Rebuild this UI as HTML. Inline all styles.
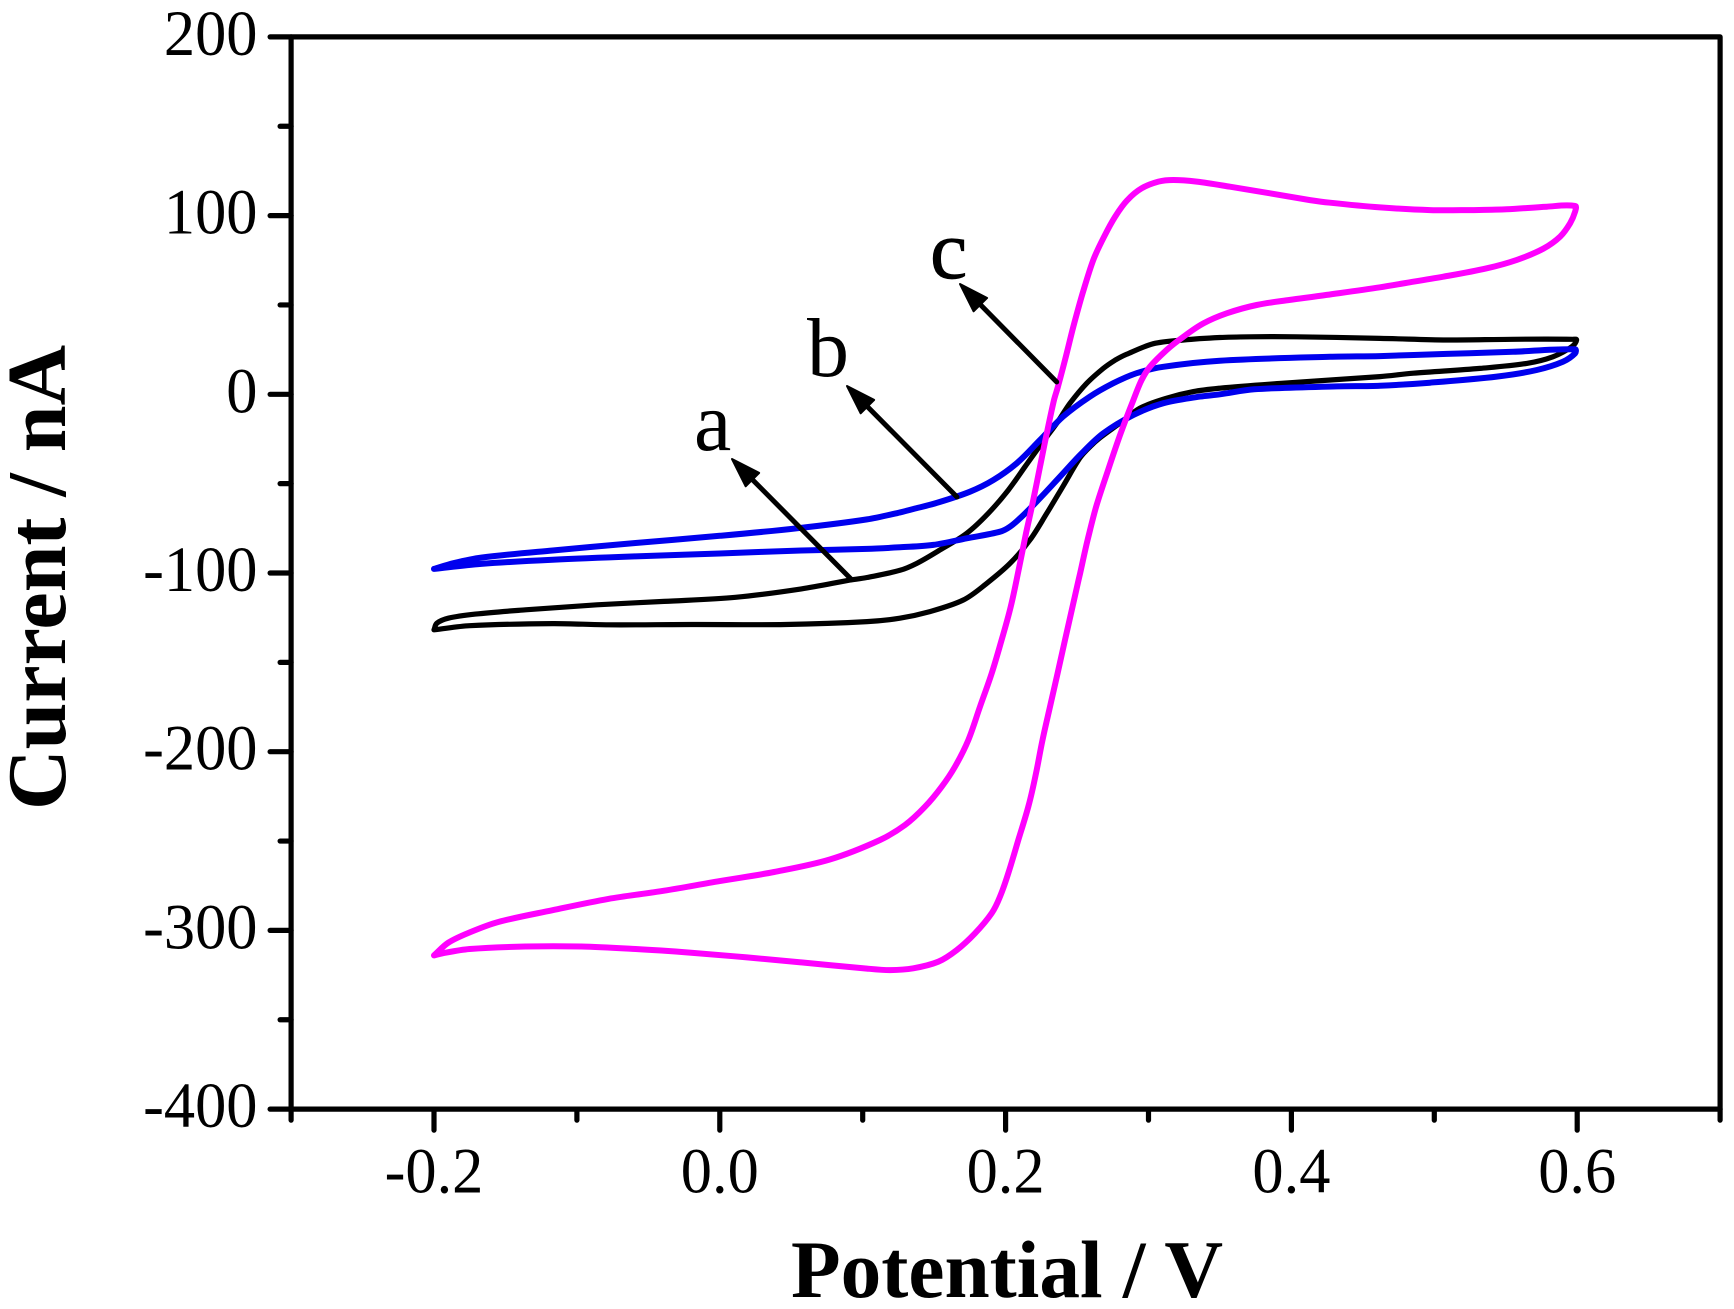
<!DOCTYPE html>
<html>
<head>
<meta charset="utf-8">
<title>Cyclic voltammograms</title>
<style>
html,body{margin:0;padding:0;background:#fff;}
svg{display:block;}
text{font-family:"Liberation Serif",serif;fill:#000;}
</style>
</head>
<body>
<svg id="chart" xmlns="http://www.w3.org/2000/svg" width="1734" height="1309" viewBox="0 0 1734 1309">
<rect x="0" y="0" width="1734" height="1309" fill="#fff"/>
<g id="curves"></g>
<g id="arrows"></g>
<g id="axes"></g>
<text transform="translate(65,810) rotate(-90)" font-size="84" font-weight="bold">Current / nA</text>
<text x="791" y="1297" font-size="81.3" font-weight="bold">Potential / V</text>
<text x="694" y="450" font-size="84">a</text>
<text x="807" y="376" font-size="84">b</text>
<text x="930" y="278" font-size="84" stroke="#000" stroke-width="0.8">c</text>
</svg>
<script>
const xTickValues = [-0.3,-0.2,-0.1,0,0.1,0.2,0.3,0.4,0.5,0.6,0.7];
const xTickLabels = ['', '-0.2', '', '0.0', '', '0.2', '', '0.4', '', '0.6', ''];
const yTickValues = [200,150,100,50,0,-50,-100,-150,-200,-250,-300,-350,-400];
const yTickLabels = ['200','','100','','0','','-100','','-200','','-300','','-400'];

const potentialA = [-0.2,-0.175,-0.117,-0.078,-0.02,0.046,0.103,0.126,0.146,0.1704,0.1868,0.2031,0.2171,0.2288,0.2404,0.2521,0.2591,0.2661,0.28,0.294,0.3127,0.3314,0.35,0.393,0.462,0.4853,0.532,0.5647,0.583,0.5961,0.5996,0.597,0.5551,0.5087,0.462,0.4037,0.371,0.35,0.3244,0.3034,0.2847,0.2765,0.2684,0.2568,0.2451,0.2358,0.2253,0.2136,0.2019,0.1879,0.1728,0.1541,0.1378,0.1261,0.103,0.091,0.057,0.011,-0.039,-0.086,-0.136,-0.171,-0.19,-0.198,-0.2];
const currentA = [-131.8,-129.5,-128.3,-129,-128.8,-128.8,-127.2,-125.3,-121.8,-115.1,-105.8,-94.6,-81.5,-66.6,-51.2,-35.5,-29.3,-24.3,-16.2,-7.8,-2.2,1.5,3.4,6.1,9.9,11.8,14.5,17.3,21,26.6,30.4,30.8,30.8,30.4,31.3,32.2,32.2,31.8,30.4,28.3,22.4,19,14.5,6.2,-5,-16.2,-27.4,-40.5,-53.6,-66.6,-77.8,-87.1,-94.6,-98.5,-102.5,-104,-108.9,-113.6,-115.9,-117.8,-120.6,-123,-125.3,-128.1,-131.8];

const potentialB = [-0.2,-0.167,-0.117,-0.059,0,0.057,0.103,0.1261,0.1494,0.1728,0.1961,0.2031,0.2113,0.2229,0.2381,0.2533,0.2684,0.2894,0.3104,0.336,0.35,0.374,0.432,0.462,0.497,0.5437,0.5717,0.59,0.5985,0.5985,0.5551,0.5087,0.462,0.427,0.35,0.3103,0.2917,0.2754,0.259,0.2402,0.2241,0.2078,0.1914,0.1751,0.1518,0.1354,0.1261,0.103,0.054,0,-0.059,-0.117,-0.167,-0.186,-0.2];
const currentB = [-97.7,-94.9,-92.6,-90.7,-89.1,-87.4,-86.5,-85.6,-84.3,-80.6,-76.9,-74.1,-68.5,-59.1,-46.1,-33,-21.8,-11.6,-5,-1.3,0,2.8,4.4,4.8,6.5,9.9,13.6,18.2,22.9,25.2,23.8,22.6,21.4,21,18.8,15.4,11.8,6.2,-1.3,-12.5,-25.6,-38.6,-48,-54.5,-60.8,-64.2,-66.1,-70,-75,-79.2,-83.2,-87.4,-91.4,-94.4,-97.7];

const potentialC = [-0.2,-0.194,-0.175,-0.136,-0.097,-0.059,-0.02,0.019,0.057,0.103,0.1191,0.1354,0.1529,0.1658,0.1786,0.1903,0.1961,0.2019,0.2089,0.2159,0.2213,0.2258,0.2311,0.2364,0.2416,0.2468,0.2521,0.2574,0.2637,0.2719,0.28,0.2894,0.2952,0.301,0.3127,0.3244,0.3384,0.3547,0.3757,0.399,0.4247,0.462,0.4853,0.5063,0.5367,0.5577,0.5763,0.588,0.595,0.5985,0.5985,0.5787,0.5507,0.525,0.497,0.462,0.427,0.413,0.385,0.357,0.3337,0.3174,0.3069,0.2952,0.2852,0.2766,0.2689,0.2614,0.2539,0.2474,0.2416,0.2365,0.2339,0.2288,0.2241,0.2194,0.2143,0.2096,0.2036,0.1972,0.1903,0.1821,0.1739,0.1646,0.1553,0.1436,0.1296,0.1121,0.077,0.038,0,-0.039,-0.078,-0.117,-0.155,-0.175,-0.19,-0.2];
const currentC = [-314,-312.8,-310.4,-309,-309,-310.4,-312.5,-315.1,-317.9,-321.4,-322.2,-321.2,-317.5,-311,-301.6,-290.4,-281.1,-268,-249.4,-230.8,-212.1,-193.5,-174.8,-156.1,-137.5,-118.9,-100.2,-81.5,-62,-42,-23,-3.2,8,15.4,24.8,32.2,39.7,45.3,50,52.8,55.6,59.9,63,65.8,70.5,75.2,81.5,88.2,95.7,102.2,105.4,105,103.5,103.1,103.1,104.6,107.2,108.7,112.5,116.2,119,119.9,119,115.3,108.7,99.4,88.2,75.2,56.5,37.8,19.2,4,-3.2,-21.8,-40.5,-59.1,-77.8,-96.5,-118.9,-137.5,-156.1,-174.8,-193.5,-208.4,-219.6,-230.8,-241,-249.4,-260.3,-267.3,-272.4,-277.8,-282.4,-288.7,-295.3,-301.1,-306.9,-314];

function xScale(v){ return 719.8 + v * 1429; }
function yScale(v){ return 394.3 - v * 1.787; }

const NS = 'http://www.w3.org/2000/svg';
const curvesGroup = document.getElementById('curves');
const arrowsGroup = document.getElementById('arrows');
const axesGroup = document.getElementById('axes');

function unitTangent(a, b){
  const dx = b[0]-a[0], dy = b[1]-a[1], l = Math.hypot(dx,dy) || 1;
  return [dx/l, dy/l];
}

function smoothPath(xs, ys){
  const pts = xs.map(function(x,i){ return [xScale(x), yScale(ys[i])]; });
  let d = 'M' + pts[0][0].toFixed(1) + ' ' + pts[0][1].toFixed(1);
  for (let i = 0; i < pts.length - 1; i++) {
    const p0 = pts[Math.max(i-1,0)], p1 = pts[i], p2 = pts[i+1], p3 = pts[Math.min(i+2,pts.length-1)];
    const seg = Math.hypot(p2[0]-p1[0], p2[1]-p1[1]) / 3;
    const t1 = unitTangent(p0, p2), t2 = unitTangent(p1, p3);
    const c1x = p1[0] + t1[0]*seg, c1y = p1[1] + t1[1]*seg;
    const c2x = p2[0] - t2[0]*seg, c2y = p2[1] - t2[1]*seg;
    d += 'C' + c1x.toFixed(1) + ' ' + c1y.toFixed(1) + ' ' + c2x.toFixed(1) + ' ' + c2y.toFixed(1) + ' ' + p2[0].toFixed(1) + ' ' + p2[1].toFixed(1);
  }
  return d;
}

function styleCurve(el, d, color, width){
  el.setAttribute('d', d);
  el.setAttribute('fill', 'none');
  el.setAttribute('stroke', color);
  el.setAttribute('stroke-width', width);
  el.setAttribute('stroke-linejoin', 'round');
  el.setAttribute('stroke-linecap', 'round');
  curvesGroup.appendChild(el);
}

const curveA = document.createElementNS(NS, 'path');


styleCurve(curveA, smoothPath(potentialA, currentA), '#000000', 5.2);

const curveB = document.createElementNS(NS, 'path');


styleCurve(curveB, smoothPath(potentialB, currentB), '#0000ee', 6);

const curveC = document.createElementNS(NS, 'path');


styleCurve(curveC, smoothPath(potentialC, currentC), '#ff00ff', 6);

function drawArrow(group, x1, y1, x2, y2){
  const dx = x2-x1, dy = y2-y1, len = Math.hypot(dx,dy), ux = dx/len, uy = dy/len;
  const hl = 29, hw = 9.5;
  const bx = x2 - ux*hl, by = y2 - uy*hl;
  const line = document.createElementNS(NS, 'line');
  
  
  line.setAttribute('x1', x1);
  line.setAttribute('y1', y1);
  line.setAttribute('x2', bx);
  line.setAttribute('y2', by);
  line.setAttribute('stroke', '#000');
  line.setAttribute('stroke-width', 5);
  line.setAttribute('stroke-linecap', 'round');
  group.appendChild(line);
  const head = document.createElementNS(NS, 'polygon');
  
  
  head.setAttribute('points', x2+','+y2+' '+(bx-uy*hw)+','+(by+ux*hw)+' '+(bx+uy*hw)+','+(by-ux*hw));
  head.setAttribute('fill', '#000');
  head.setAttribute('stroke', '#000');
  head.setAttribute('stroke-width', 2);
  head.setAttribute('stroke-linejoin', 'round');
  group.appendChild(head);
}
drawArrow(arrowsGroup, 850.5, 578.5, 732, 459);
drawArrow(arrowsGroup, 957, 497, 847, 386);
drawArrow(arrowsGroup, 1056.7, 382, 960, 284);

const frame = document.createElementNS(NS, 'rect');


frame.setAttribute('x', xScale(-0.3));
frame.setAttribute('y', yScale(200));
frame.setAttribute('width', xScale(0.7)-xScale(-0.3));
frame.setAttribute('height', yScale(-400)-yScale(200));
frame.setAttribute('fill', 'none');
frame.setAttribute('stroke', '#000');
frame.setAttribute('stroke-width', 5.2);
frame.setAttribute('stroke-linejoin', 'round');
axesGroup.appendChild(frame);

function tickLine(x1,y1,x2,y2){
  const t = document.createElementNS(NS, 'line');
  t.setAttribute('x1', x1);
  t.setAttribute('y1', y1);
  t.setAttribute('x2', x2);
  t.setAttribute('y2', y2);
  t.setAttribute('stroke', '#000');
  t.setAttribute('stroke-width', 5.2);
  t.setAttribute('stroke-linecap', 'round');
  return t;
}

yTickValues.forEach(function(v,i){
  const major = yTickLabels[i] !== '';
  const y = yScale(v), x0 = xScale(-0.3);
  const t = tickLine(x0, y, x0 - (major ? 21 : 11), y);
  
  
  axesGroup.appendChild(t);
  if (major) {
    const label = document.createElementNS(NS, 'text');
    
    
    label.setAttribute('transform', 'translate(257.5,' + (y+18) + ') scale(0.96,1)');
    label.setAttribute('text-anchor', 'end');
    label.setAttribute('font-size', 65);
    label.textContent = yTickLabels[i];
    axesGroup.appendChild(label);
  }
});

xTickValues.forEach(function(v,i){
  const major = xTickLabels[i] !== '';
  const x = xScale(v), y0 = yScale(-400);
  const t = tickLine(x, y0, x, y0 + (major ? 21 : 11));
  
  
  axesGroup.appendChild(t);
  if (major) {
    const label = document.createElementNS(NS, 'text');
    
    
    label.setAttribute('transform', 'translate(' + x + ',1192.7) scale(0.96,1)');
    label.setAttribute('text-anchor', 'middle');
    label.setAttribute('font-size', 65);
    label.textContent = xTickLabels[i];
    axesGroup.appendChild(label);
  }
});
</script>
</body>
</html>
